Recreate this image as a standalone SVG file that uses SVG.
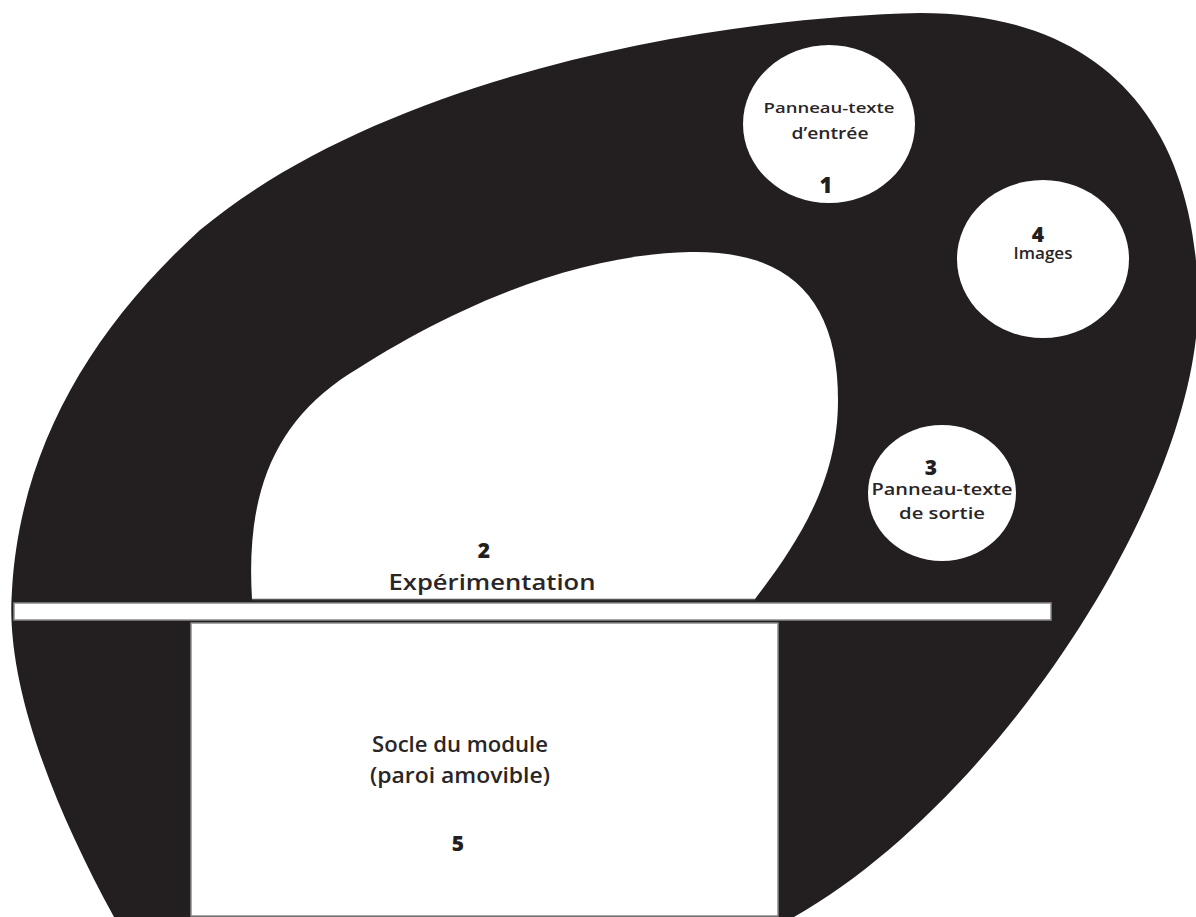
<svg xmlns="http://www.w3.org/2000/svg" width="1196" height="917" viewBox="0 0 1196 917">
  <style>
    .ink { fill: #231f20; }
    .hole { fill: #ffffff; }
    .edge { fill: #ffffff; stroke: #8a8a8a; stroke-width: 1.5; }
    .lbl { font-family: "Open Sans", "Liberation Sans", sans-serif; font-weight: 600; fill: #2a2627; text-anchor: middle; }
    .num { font-family: "Open Sans", "Liberation Sans", sans-serif; font-weight: 800; fill: #231f20; text-anchor: middle; }
  </style>
  <rect x="0" y="0" width="1196" height="917" fill="#ffffff"/>
  <path id="floor" class="ink" d="M 114 917 C 50 800, 5 680, 12 590 C 20 450, 90 330, 200 230 C 380 80, 700 18, 920 13 C 1100 13, 1196 120, 1198 300 C 1200 490, 1000 800, 794 917 Z"/>
  <g id="n2-experimentation">
    <path class="hole" d="M 252 599 C 246 500, 270 430, 340 380 C 430 320, 560 255, 690 252 C 790 250, 838 300, 838 400 C 838 480, 800 540, 755 599 Z"/>
    <line x1="252" y1="599.5" x2="755" y2="599.5" stroke="#555" stroke-width="1.5"/>
    <text class="num" x="484" y="558" font-size="21">2</text>
    <text class="lbl" x="492" y="590" font-size="21" textLength="207" lengthAdjust="spacingAndGlyphs">Expérimentation</text>
  </g>
  <g id="bar">
    <rect class="edge" x="14" y="603" width="1037" height="17"/>
  </g>
  <g id="n5-socle">
    <rect class="edge" x="191" y="623" width="587" height="293"/>
    <text class="lbl" x="460" y="752" font-size="21" textLength="176" lengthAdjust="spacingAndGlyphs">Socle du module</text>
    <text class="lbl" x="460" y="783" font-size="21" textLength="180" lengthAdjust="spacingAndGlyphs">(paroi amovible)</text>
    <text class="num" x="458" y="851" font-size="21">5</text>
  </g>
  <g id="n1-entree">
    <ellipse class="hole" cx="829" cy="124" rx="86" ry="79"/>
    <text class="lbl" x="829" y="113" font-size="15" textLength="131" lengthAdjust="spacingAndGlyphs">Panneau-texte</text>
    <text class="lbl" x="830" y="139" font-size="16" textLength="77" lengthAdjust="spacingAndGlyphs">d’entrée</text>
    <text class="num" x="826" y="193" font-size="22">1</text>
  </g>
  <g id="n4-images">
    <ellipse class="hole" cx="1043" cy="259" rx="86" ry="79"/>
    <text class="num" x="1038" y="242" font-size="21">4</text>
    <text class="lbl" x="1043" y="259" font-size="16" textLength="59" lengthAdjust="spacingAndGlyphs">Images</text>
  </g>
  <g id="n3-sortie">
    <ellipse class="hole" cx="942" cy="493" rx="74" ry="68"/>
    <text class="num" x="931" y="475" font-size="21">3</text>
    <text class="lbl" x="942" y="495" font-size="16" textLength="141" lengthAdjust="spacingAndGlyphs">Panneau-texte</text>
    <text class="lbl" x="942" y="519" font-size="17" textLength="86" lengthAdjust="spacingAndGlyphs">de sortie</text>
  </g>
  <g id="connectors"/>
</svg>
